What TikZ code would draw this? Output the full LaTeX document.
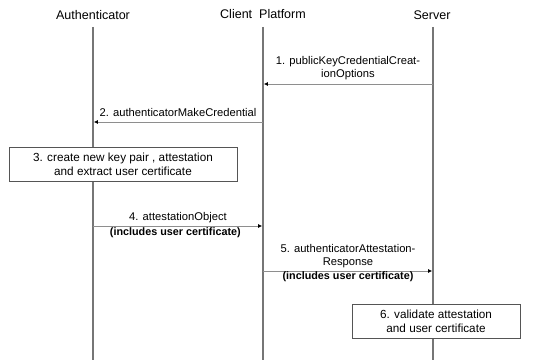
\documentclass[tikz,border=0pt]{standalone}
\usepackage{fontspec}
\setmainfont{Liberation Sans}
\usetikzlibrary{positioning,arrows.meta,calc}
\definecolor{seqLine}{HTML}{767676}
\definecolor{seqMsg}{HTML}{8E8E8E}
\definecolor{seqBox}{HTML}{555555}
\tikzset{
  party/.style={inner sep=1pt, font=\fontsize{9.4}{10}\selectfont},
  life/.style={draw=seqLine, line width=0.8pt},
  msg/.style={draw=seqMsg, line width=0.7pt, shorten >=0.6pt,
    -{Latex[length=3pt,width=3pt,color=black]}},
  lbl/.style={inner sep=1pt, align=center, font=\fontsize{8.4}{9.8}\selectfont},
  boldlbl/.style={inner sep=1pt, align=center, font=\fontsize{8.1}{9.8}\selectfont\bfseries},
  act/.style={draw=seqBox, line width=0.6pt, fill=white, align=center,
    inner sep=2pt, font=\fontsize{8.8}{10.5}\selectfont},
}

\begin{document}
\begin{tikzpicture}[x=0.75pt,y=-0.75pt]
\useasboundingbox (0,0) rectangle (541,360);

% parties and their lifelines
\node[party] (auth) at (93,15) {Authenticator};
\node[party] (cli) at (263,14) {Client\ \ Platform};
\node[party] (srv) at (432,15) {Server};

\foreach \p/\x in {auth/93, cli/263, srv/433} {
  \coordinate (\p-top) at (\x,27);
  \coordinate (\p-end) at (\x,360);
  \draw[life] (\p-top) -- (\p-end);
}

% message end points on the lifelines
\foreach \m/\y in {1/84, 2/122, 4/226, 5/271} {
  \coordinate (auth-\m) at (93,\y);
  \coordinate (cli-\m) at (263,\y);
  \coordinate (srv-\m) at (433,\y);
}

\draw[msg] (srv-1) -- node[lbl, above=2pt] {1. publicKeyCredentialCreat-\\ionOptions} (cli-1);
\draw[msg] (cli-2) -- node[lbl, above=3pt] {2. authenticatorMakeCredential} (auth-2);

\node[act, minimum width=171pt, minimum height=26pt] (gen) at (123,164.5)
  {3. create new key pair , attestation\\and extract user certificate};

\draw[msg] (auth-4) -- node[lbl, above=1pt] {4. attestationObject}
  node[boldlbl, below=0pt, xshift=-2pt] {(includes user certificate)} (cli-4);

\draw[msg] (cli-5) -- node[lbl, above=1pt] {5. authenticatorAttestation-\\Response}
  node[boldlbl, below=-1pt] {(includes user certificate)} (srv-5);

\node[act, minimum width=126pt, minimum height=26pt] (check) at (436,321.5)
  {6. validate attestation\\and user certificate};

\end{tikzpicture}
\end{document}
